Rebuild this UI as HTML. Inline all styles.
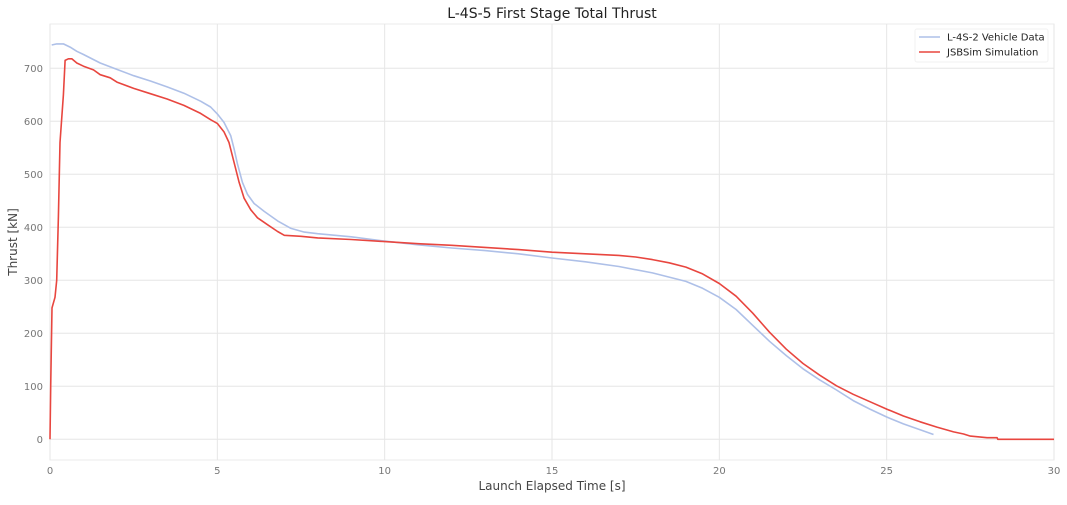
<!DOCTYPE html>
<html><head><meta charset="utf-8"><style>
body{margin:0;background:#fff;font-family:"Liberation Sans","DejaVu Sans",sans-serif}
svg text{font-family:"DejaVu Sans","Liberation Sans",sans-serif}
</style></head><body>
<svg id="c" width="1067" height="500" xmlns="http://www.w3.org/2000/svg"></svg>
<script>
const xTicks=[0,5,10,15,20,25,30];
const yTicks=[0,100,200,300,400,500,600,700];
const blueT=[0.05,0.2,0.4,0.6,0.8,1,1.5,2,2.5,3,3.5,4,4.5,4.8,5,5.2,5.4,5.5,5.6,5.75,5.9,6.1,6.4,6.8,7.2,7.6,8,9,10,11,12,13,14,15,16,17,18,19,19.5,20,20.5,21,21.5,22,22.5,23,23.5,24,24.5,25,25.5,26,26.4];
const blueV=[744,746,746,740,732,726,710,698,686,676,665,653,638,627,614,598,573,548,520,485,462,445,430,412,398,391,388,382,374,367,361,356,350,342,335,326,314,298,285,268,245,215,185,158,133,112,93,73,57,42,29,18,9];
const redT=[0,0.02,0.06,0.15,0.2,0.25,0.3,0.4,0.45,0.55,0.65,0.8,1,1.3,1.5,1.8,2,2.5,3,3.5,4,4.5,4.8,5,5.2,5.35,5.5,5.65,5.8,6,6.2,6.5,6.8,7,7.5,8,9,10,11,12,13,14,15,16,17,17.5,18,18.5,19,19.5,20,20.5,21,21.5,22,22.5,23,23.5,24,24.5,25,25.5,26,26.5,27,27.3,27.5,28,28.3,28.32,30];
const redV=[0,100,248,268,300,420,560,650,715,718,718,710,704,697,688,682,674,662,652,642,630,615,603,596,580,560,522,485,455,433,418,405,392,385,383,380,377,373,369,366,362,358,353,350,347,344,339,333,325,312,294,270,238,202,170,143,121,101,85,71,57,44,33,23,14,10,6,3,3,0,0];
const L=50,R=1054,T=24,B=460,Y0=439.3,Y700=68.3;
const xs=t=>L+(R-L)*t/30, ys=v=>Y0+(Y700-Y0)*v/700;
const svg=document.getElementById('c'),NS='http://www.w3.org/2000/svg';
function mk(tag,at,txt){const e=document.createElementNS(NS,tag);for(const k in at)e.setAttribute(k,at[k]);if(txt!==undefined)e.textContent=txt;svg.appendChild(e);return e;}
let f=mk('rect',{x:L,y:T,width:R-L,height:B-T,fill:'#fff',stroke:'#ebebeb'});


xTicks.forEach(t=>{let g=mk('line',{x1:xs(t),x2:xs(t),y1:T,y2:B,stroke:'#e6e6e6'});


let l=mk('text',{x:xs(t),y:B+14,'text-anchor':'middle','font-size':10,fill:'#777'},t);

});
yTicks.forEach(v=>{let g=mk('line',{x1:L,x2:R,y1:ys(v),y2:ys(v),stroke:'#e6e6e6'});


let l=mk('text',{x:L-7,y:ys(v)+3.5,'text-anchor':'end','font-size':10,fill:'#777'},v);

});
function line(T_,V,c,name){let d=T_.map((t,i)=>(i?'L':'M')+xs(t).toFixed(1)+','+ys(V[i]).toFixed(1)).join('');
let p=mk('path',{d:d,fill:'none',stroke:c,'stroke-width':1.6,'stroke-linejoin':'round'});

}
line(blueT,blueV,'#aec0e8','vehicle-data-line');
line(redT,redV,'#e8463f','jsbsim-simulation-line');
let t1=mk('text',{x:552,y:18,'text-anchor':'middle','font-size':14,fill:'#222'},'L-4S-5 First Stage Total Thrust');


let xt=mk('text',{x:552,y:490,'text-anchor':'middle','font-size':12,fill:'#444'},'Launch Elapsed Time [s]');


let yt=mk('text',{x:17,y:242,'text-anchor':'middle','font-size':12,fill:'#444',transform:'rotate(-90 17 242)'},'Thrust [kN]');


let lg=mk('rect',{x:915,y:29,width:133,height:33,fill:'#fff',stroke:'#f2f2f2',rx:2});


[['#aec0e8','L-4S-2 Vehicle Data',37],['#e8463f','JSBSim Simulation',52]].forEach(([c,s,y],i)=>{
let ln=mk('line',{x1:919,x2:940,y1:y,y2:y,stroke:c,'stroke-width':1.6});


let tx=mk('text',{x:947,y:y+3.5,'font-size':10,fill:'#222'},s);

});
</script>
</body></html>
